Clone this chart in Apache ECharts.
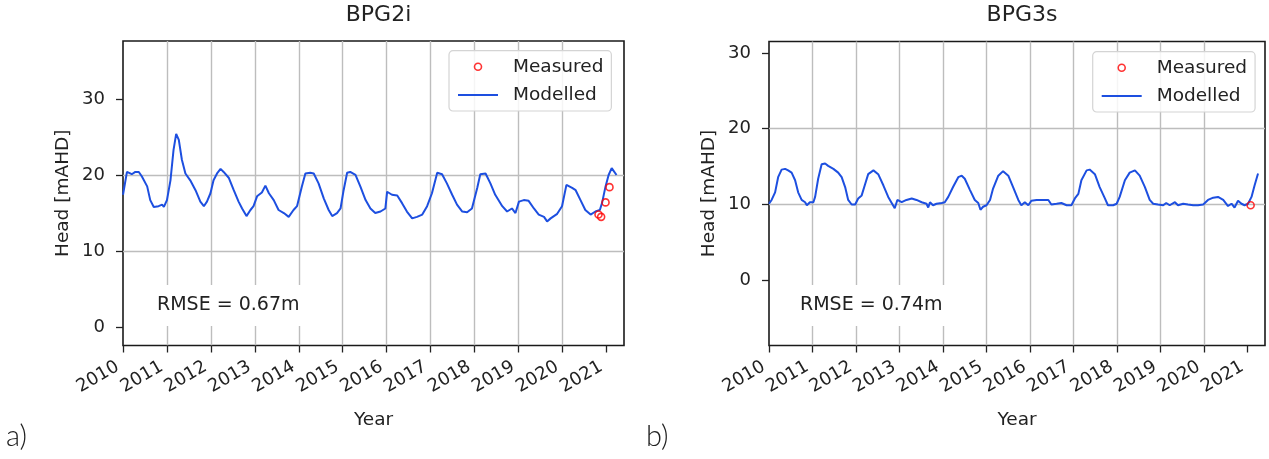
<!DOCTYPE html>
<html><head><meta charset="utf-8">
<script src="https://cdn.jsdelivr.net/npm/echarts@6/dist/echarts.min.js"></script>
<style>html,body{margin:0;padding:0;background:#fff}#c{width:1269px;height:459px}</style>
</head><body><div id="c"></div>
<script>
const yearTicks = [2010, 2011, 2012, 2013, 2014, 2015, 2016, 2017, 2018, 2019, 2020, 2021];
const headTicks = [0, 10, 20, 30];
const titles = ['BPG2i', 'BPG3s'];
const rmseLabels = ['RMSE = 0.67m', 'RMSE = 0.74m'];
const panelLabels = ['a)', 'b)'];
const seriesNames = ['Measured', 'Modelled'];

// BPG2i modelled head (decimal year, mAHD)
const bpg2iYear = [2010.00, 2010.09, 2010.13, 2010.20, 2010.28, 2010.36, 2010.43, 2010.55, 2010.62, 2010.70, 2010.81, 2010.89, 2010.93,
  2011.00, 2011.08, 2011.15, 2011.21, 2011.27, 2011.34, 2011.42, 2011.53, 2011.65, 2011.76, 2011.84, 2011.91, 2011.99,
  2012.06, 2012.14, 2012.22, 2012.29, 2012.41, 2012.52, 2012.63, 2012.71, 2012.81, 2012.90, 2012.97,
  2013.05, 2013.16, 2013.24, 2013.32, 2013.43, 2013.54, 2013.66, 2013.77, 2013.88, 2013.96,
  2014.07, 2014.15, 2014.26, 2014.34, 2014.45, 2014.57, 2014.68, 2014.76, 2014.87, 2014.95,
  2015.02, 2015.10, 2015.17, 2015.29, 2015.40, 2015.52, 2015.63, 2015.74, 2015.86, 2015.97,
  2016.01, 2016.12, 2016.24, 2016.35, 2016.46, 2016.58, 2016.69, 2016.81, 2016.92,
  2017.03, 2017.15, 2017.26, 2017.37, 2017.49, 2017.60, 2017.72, 2017.83, 2017.94,
  2018.06, 2018.13, 2018.25, 2018.36, 2018.47, 2018.63, 2018.74, 2018.85, 2018.93,
  2019.01, 2019.12, 2019.23, 2019.35, 2019.46, 2019.58, 2019.65, 2019.73, 2019.88, 2019.99,
  2020.09, 2020.22, 2020.30, 2020.41, 2020.52, 2020.64, 2020.75, 2020.85, 2020.90, 2020.98,
  2021.05, 2021.12, 2021.23];
const bpg2iHead = [17.4, 20.4, 20.6, 20.1, 20.4, 20.4, 19.8, 18.5, 16.7, 15.8, 15.9, 16.1, 15.8,
  16.7, 19.3, 23.3, 25.4, 24.6, 22.0, 20.2, 19.3, 18.0, 16.5, 15.9, 16.5, 17.6,
  19.3, 20.2, 20.8, 20.4, 19.6, 18.0, 16.5, 15.6, 14.6, 15.4, 15.9,
  17.2, 17.7, 18.6, 17.6, 16.7, 15.4, 15.0, 14.5, 15.4, 15.9,
  18.5, 20.2, 20.3, 20.2, 18.9, 16.9, 15.4, 14.6, 15.0, 15.6,
  18.0, 20.3, 20.4, 20.0, 18.5, 16.7, 15.6, 15.0, 15.2, 15.6,
  17.8, 17.4, 17.3, 16.3, 15.2, 14.3, 14.5, 14.8, 15.9,
  17.6, 20.3, 20.1, 18.9, 17.4, 16.1, 15.2, 15.1, 15.6,
  18.3, 20.1, 20.2, 18.9, 17.4, 15.9, 15.2, 15.6, 15.0,
  16.5, 16.7, 16.6, 15.6, 14.8, 14.5, 13.9, 14.3, 14.9, 15.9,
  18.7, 18.3, 18.0, 16.7, 15.4, 14.8, 15.2, 15.4, 16.3, 18.5,
  20.0, 20.9, 20.0];
const bpg2iMeasYear = [2020.82, 2020.88, 2020.98, 2021.07];
const bpg2iMeasHead = [14.8, 14.5, 16.4, 18.4];

// BPG3s modelled head
const bpg3sYear = [2010.00, 2010.06, 2010.14, 2010.21, 2010.29, 2010.37, 2010.44, 2010.52, 2010.60, 2010.67, 2010.75, 2010.83, 2010.87, 2010.94,
  2011.02, 2011.06, 2011.13, 2011.21, 2011.29, 2011.36, 2011.48, 2011.59, 2011.67, 2011.75, 2011.82, 2011.90, 2011.98,
  2012.05, 2012.13, 2012.21, 2012.28, 2012.40, 2012.51, 2012.63, 2012.74, 2012.82, 2012.89, 2012.95,
  2013.05, 2013.16, 2013.28, 2013.39, 2013.51, 2013.62, 2013.66, 2013.70, 2013.77, 2013.85, 2013.97,
  2014.04, 2014.12, 2014.23, 2014.35, 2014.43, 2014.50, 2014.62, 2014.73, 2014.81, 2014.86, 2014.92,
  2015.00, 2015.08, 2015.15, 2015.27, 2015.38, 2015.50, 2015.61, 2015.73, 2015.80, 2015.88, 2015.96,
  2016.03, 2016.15, 2016.30, 2016.42, 2016.49, 2016.61, 2016.72, 2016.84, 2016.95,
  2017.03, 2017.11, 2017.18, 2017.30, 2017.37, 2017.49, 2017.60, 2017.72, 2017.79, 2017.91, 2017.99,
  2018.06, 2018.18, 2018.29, 2018.41, 2018.52, 2018.64, 2018.75, 2018.83, 2018.94,
  2019.06, 2019.13, 2019.21, 2019.33, 2019.40, 2019.52, 2019.63, 2019.75, 2019.86, 2019.98,
  2020.09, 2020.21, 2020.32, 2020.44, 2020.55, 2020.63, 2020.70, 2020.78, 2020.86, 2020.93,
  2021.01, 2021.09, 2021.16, 2021.24];
const bpg3sHead = [10.1, 10.6, 11.6, 13.6, 14.6, 14.7, 14.5, 14.2, 13.2, 11.6, 10.6, 10.3, 9.9, 10.3,
  10.3, 11.0, 13.4, 15.3, 15.4, 15.1, 14.7, 14.2, 13.6, 12.3, 10.6, 10.0, 10.0,
  10.8, 11.2, 12.7, 14.0, 14.5, 14.0, 12.5, 11.0, 10.2, 9.5, 10.6,
  10.3, 10.6, 10.8, 10.6, 10.3, 10.1, 9.6, 10.3, 9.9, 10.1, 10.2,
  10.3, 11.0, 12.3, 13.6, 13.8, 13.4, 11.9, 10.6, 10.2, 9.3, 9.7,
  9.9, 10.6, 12.1, 13.8, 14.4, 13.8, 12.3, 10.6, 9.9, 10.3, 9.9,
  10.5, 10.6, 10.6, 10.6, 10.0, 10.1, 10.2, 9.9, 9.9,
  10.8, 11.4, 13.2, 14.5, 14.6, 14.0, 12.3, 10.8, 9.9, 9.9, 10.1,
  11.0, 13.2, 14.2, 14.5, 13.8, 12.3, 10.6, 10.1, 10.0,
  9.9, 10.2, 9.9, 10.3, 9.9, 10.1, 10.0, 9.9, 9.9, 10.0,
  10.6, 10.9, 11.0, 10.6, 9.8, 10.1, 9.6, 10.5, 10.1, 9.9,
  10.1, 11.0, 12.5, 14.1];
const bpg3sMeasYear = [2021.07];
const bpg3sMeasHead = [9.9];

const FONT = 'DejaVu Sans';
const TXT = '#222';
const BLUE = '#1d4fe0';
const RED = '#ff0000';
const pair = (xs, ys) => xs.map((x, i) => [x, ys[i]]);

const grids = [
  { left: 123, top: 41, width: 501, height: 304.5 },
  { left: 769, top: 41.5, width: 496, height: 304 }
];
const yRanges = [[-2.4, 37.6], [-8.6, 31.5]];
const xMax = 2021.4;

const option = {
  backgroundColor: '#fff',
  animation: false,
  title: titles.map((t, i) => ({
    text: t, left: grids[i].left + grids[i].width / 2, top: -1, textAlign: 'center',
    textStyle: { fontFamily: FONT, fontSize: 22, fontWeight: 'normal', color: TXT }
  })),
  grid: grids.map(g => Object.assign({ show: true, borderColor: '#1a1a1a', borderWidth: 1.6, backgroundColor: 'transparent' }, g)),
  xAxis: grids.map((g, i) => ({
    type: 'value', gridIndex: i, min: 2010, max: xMax, interval: 1,
    axisLine: { show: false, onZero: false },
    axisTick: { show: true, length: 7, customValues: yearTicks, lineStyle: { color: TXT, width: 1.3 } },
    axisLabel: { customValues: yearTicks, rotate: 30, margin: 17, padding: [0, 6, 0, 0], fontFamily: FONT, fontSize: 18, color: TXT, formatter: v => String(Math.round(v)) },
    splitLine: { show: true, showMinLine: false, showMaxLine: false, lineStyle: { color: '#bdbdbd', width: 1.4 } },
    name: 'Year', nameLocation: 'middle', nameGap: 65,
    nameTextStyle: { fontFamily: FONT, fontSize: 18.5, color: TXT }
  })),
  yAxis: grids.map((g, i) => ({
    type: 'value', gridIndex: i, min: yRanges[i][0], max: yRanges[i][1], splitNumber: 4,
    axisLine: { show: false, onZero: false },
    axisTick: { show: true, length: 7, customValues: headTicks, lineStyle: { color: TXT, width: 1.3 } },
    axisLabel: { customValues: headTicks, margin: 18, fontFamily: FONT, fontSize: 18, color: TXT },
    splitLine: { show: true, showMinLine: false, showMaxLine: false, lineStyle: { color: '#bdbdbd', width: 1.4 } },
    name: 'Head [mAHD]', nameLocation: 'middle', nameGap: 50, nameRotate: 90,
    nameTextStyle: { fontFamily: FONT, fontSize: 18.5, color: TXT }
  })),
  legend: [[449, 50.7], [1092.7, 51.7]].map(p => ({
    left: p[0], top: p[1], orient: 'vertical', selectedMode: false,
    padding: [6, 8, 6, 8], itemGap: 8.3, itemWidth: 40, itemHeight: 7,
    backgroundColor: 'rgba(255,255,255,0.85)', borderColor: '#d4d4d4', borderWidth: 1.2, borderRadius: 4,
    textStyle: { fontFamily: FONT, fontSize: 18.5, color: TXT, lineHeight: 20, padding: [0, 0, 0, 10] },
    data: [
      { name: seriesNames[0], icon: 'circle', itemStyle: { color: 'transparent', borderColor: RED, borderWidth: 1.6 } },
      { name: seriesNames[1], itemStyle: { color: 'transparent', borderColor: 'transparent', borderWidth: 0, opacity: 0 }, lineStyle: { color: BLUE, width: 2 } }
    ]
  })),
  series: [
    { name: seriesNames[1], type: 'line', xAxisIndex: 0, yAxisIndex: 0, data: pair(bpg2iYear, bpg2iHead), symbol: 'none', showSymbol: false, lineStyle: { color: BLUE, width: 2 }, itemStyle: { color: BLUE }, z: 3 },
    { name: seriesNames[0], type: 'scatter', xAxisIndex: 0, yAxisIndex: 0, data: pair(bpg2iMeasYear, bpg2iMeasHead), symbol: 'circle', symbolSize: 7, itemStyle: { color: 'transparent', borderColor: RED, borderWidth: 1.6 }, z: 4 },
    { name: seriesNames[1], type: 'line', xAxisIndex: 1, yAxisIndex: 1, data: pair(bpg3sYear, bpg3sHead), symbol: 'none', showSymbol: false, lineStyle: { color: BLUE, width: 2 }, itemStyle: { color: BLUE }, z: 3 },
    { name: seriesNames[0], type: 'scatter', xAxisIndex: 1, yAxisIndex: 1, data: pair(bpg3sMeasYear, bpg3sMeasHead), symbol: 'circle', symbolSize: 7, itemStyle: { color: 'transparent', borderColor: RED, borderWidth: 1.6 }, z: 4 }
  ],
  graphic: [
    { type: 'text', x: 146, y: 285, z: 50, style: { text: rmseLabels[0], fontFamily: FONT, fontSize: 19, fill: TXT, backgroundColor: '#fff', padding: [11, 11], align: 'left', verticalAlign: 'top' } },
    { type: 'text', x: 789, y: 285, z: 50, style: { text: rmseLabels[1], fontFamily: FONT, fontSize: 19, fill: TXT, backgroundColor: '#fff', padding: [11, 11], align: 'left', verticalAlign: 'top' } },
    { type: 'text', x: 6, y: 437, z: 50, style: { text: panelLabels[0], fontFamily: 'Lato', fontWeight: 300, fontSize: 29, fill: TXT, align: 'left', verticalAlign: 'middle' } },
    { type: 'text', x: 646, y: 437, z: 50, style: { text: panelLabels[1], fontFamily: 'Lato', fontWeight: 300, fontSize: 29, fill: TXT, align: 'left', verticalAlign: 'middle' } }
  ]
};
const chart = echarts.init(document.getElementById('c'), null, { renderer: 'canvas' });
chart.setOption(option);
</script>
</body></html>
